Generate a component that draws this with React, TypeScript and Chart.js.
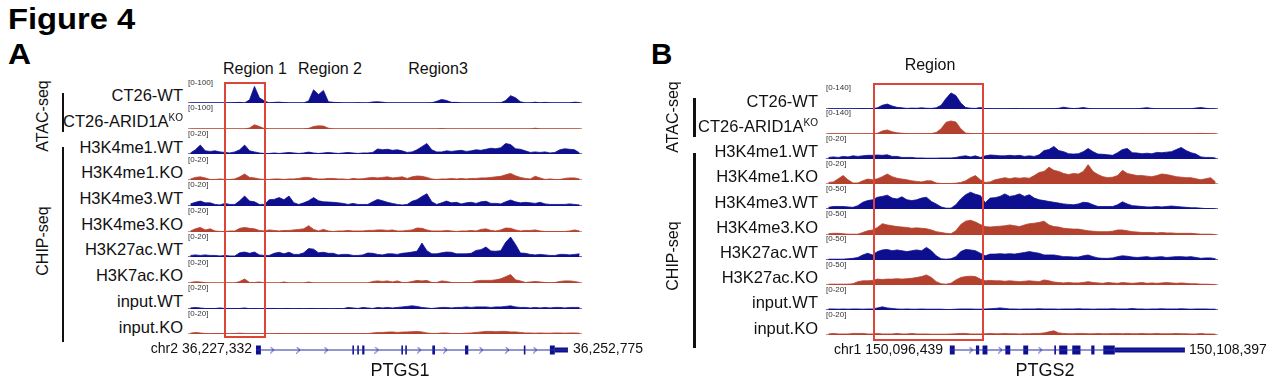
import React, { useEffect, useRef } from "react";
import { Chart, registerables } from "chart.js";
Chart.register(...registerables);

// ---------------- DATA ----------------
const trackNamesA = ["CT26-WT", "CT26-ARID1A^KO", "H3K4me1.WT", "H3K4me1.KO", "H3K4me3.WT", "H3K4me3.KO", "H3K27ac.WT", "H3K7ac.KO", "input.WT", "input.KO"];
const trackNamesB = ["CT26-WT", "CT26-ARID1A^KO", "H3K4me1.WT", "H3K4me1.KO", "H3K4me3.WT", "H3K4me3.KO", "H3K27ac.WT", "H3K27ac.KO", "input.WT", "input.KO"];
const rangesA = [100, 100, 20, 20, 20, 20, 20, 20, 20, 20];
const rangesB = [140, 140, 20, 20, 50, 50, 50, 50, 20, 20];

const viewA = [36227332, 36252775];
const viewB = [150096439, 150108397];
const coordLabelsA = ["chr2 36,227,332", "36,252,775"];
const coordLabelsB = ["chr1 150,096,439", "150,108,397"];
const geneNameA = "PTGS1";
const geneNameB = "PTGS2";
const regionLabelsA = ["Region 1", "Region 2", "Region3"];
const regionLabelsB = ["Region"];
const highlightA = [36229721, 36232305];
const highlightB = [150097903, 150101228];

// Panel A signals (80 bins each)
const a1 = [0.5,0.5,0.5,0.5,0.5,0.5,0.5,0.5,1,2, 3,0.5,15,79,25,10,0.5,3,4,2, 0.5,0.5,0.5,0.5,10,63,40,60,6,3, 2,0.5,0.5,0.5,1,0.5,0.5,5,6,4, 0.5,0.5,0.5,0.5,0.5,0.5,0.5,0.5,0.5,1, 8,17,12,3,3,0.5,0.5,0.5,0.5,0.5, 0.5,0.5,0.5,1,12,35,25,6,0.5,0.5, 4,0.5,3,0.5,0.5,0.5,0.5,0.5,4,2];
const a2 = [0.3,0.3,0.3,0.3,0.3,0.3,0.3,0.3,0.3,0.3, 0.3,0.3,5,20,12,2,0.3,0.3,0.3,0.3, 0.3,0.3,0.3,0.5,3,12,15,14,4,0.5, 0.3,0.3,0.3,0.3,0.3,0.3,0.3,0.3,0.3,0.3, 0.3,0.3,0.3,0.3,0.3,0.3,0.3,0.3,0.3,0.3, 0.3,2,0.3,0.3,0.3,0.3,0.3,0.3,0.3,0.3, 0.3,0.3,0.3,0.3,0.3,0.3,0.3,0.3,0.3,0.3, 4,0.5,0.3,0.3,0.3,0.3,0.3,0.3,0.3,0.3];
const a3 = [1,4,8.5,3,2.5,3,2,1.5,1,2, 4,8.5,3,2,1,0.5,0.5,1,0.5,1, 1.5,1,0.5,1,1.8,1,0.5,1,1.5,1, 0.5,1,1.5,1,0.5,1,1,1.5,4.8,4, 4.5,3.5,4,3,1.5,2,4,7,10,4, 2,2,3,2.5,3,3.5,2.5,3,4,3.5, 4.5,5.5,5,6,10,9,5,4.5,3,1.5, 2,1.5,2,1,1.5,4,5,4.5,4,1];
const a4 = [1,2.5,3,2,0.5,0.5,1,0.5,0.5,1, 3,5.7,2.5,2,1,0.5,0.5,1,1,0.5, 1,1,1.5,2.5,2.5,1.5,1,1,1.5,1.5, 1,1,0.5,1.5,1,1.2,2,2.5,2,2.5, 3,2,2.5,3,1.5,3,3.8,3.5,2.5,1, 0.5,1,1,1.5,1,1.5,1,1.5,1.5,2, 2,2.5,3,3.5,5,6.3,4,2.5,1.5,1, 3.5,2,0.5,1,0.5,0.5,1.5,2,2,1];
const a5 = [2,3.5,4.7,3,3,1.5,1,2.5,1.5,1.5, 5,9.5,4.7,4,1.5,1.5,6,6.3,8,6, 9.5,3,1.5,3,5,8,5,4,3.8,3.5, 3,2.5,1.5,2.5,1.5,1.5,1.5,4,6.3,5, 3.5,2.5,1.5,1,1.5,4.5,6,9,11.7,4, 1.5,3,4.7,3,3.5,2,3,3.5,2.5,4, 4.5,2.5,2.5,2,4,5.7,4,3,3.5,3, 2.5,3.5,2,1.5,1.5,1.5,1.5,2,1.5,1];
const a6 = [1,3,4.4,2,3,1,0.5,0.5,1,1, 3.5,4.4,3.5,3,1.5,1,2,1.5,1,1.5, 1.5,2,2.5,3,6,2.5,1,2.5,1,0.5, 1,1,1.5,1,1,1,1.5,1.5,2,2, 1.5,2,1,1,1.5,2,3.8,3.5,2,1, 1,1,1.5,1,0.5,1,1,1.5,1,2.5, 3,1.5,1,2,3.8,3.5,2,1,1.5,1.5, 2,1,0.5,0.5,0.5,0.5,0.5,1,2,1];
const a7 = [1.5,2,1.5,2,1.5,1.5,1,1.5,1,1, 4,4.7,3.5,4.7,2,1.5,1.5,3.5,4.5,3, 4.5,2.5,2.5,4,8,7.5,4,4.5,3.5,3.5, 2,2.5,2.5,1.5,1.5,2,3.8,3.5,2.5,2, 3,3,2.5,3.5,4,4.7,5.5,13.3,6,3, 3,4,4.7,4.5,3,3,3,3.5,6.3,7, 9.5,5.7,5.5,6,14,19,12,3.8,3.5,2.5, 2,2.5,2,1.5,1.5,2.5,2.5,2,2.5,3];
const a8 = [0.5,1.3,1,0.3,0,0,0,0,0,0, 1.5,3.8,0.5,0.5,1,0,0,0,0,1, 0,0,0,0,1,0,0,0,0,0, 0,0,0,0,0,0,0,1.5,2,1.5, 2,1,2,0.5,0.5,1.5,2.5,2,2.5,0.5, 0.5,2,1.5,0.5,0.3,0.3,0.3,0.3,2,2.5, 2.5,2.5,3,4,6,8,3,2,0.5,1, 1.5,1,0.5,0.3,0.5,1.5,2,2,1.5,0.5];
const a9 = [1,1.5,1,0.5,0.5,0.5,1,0.5,0.5,0.5, 0.5,1,0.3,0.5,0.3,0.3,0.5,0.5,0.3,0.5, 0.5,0.3,0.5,0.3,0.5,0.5,0.3,0.5,0.3,0.3, 0.5,0.3,1.5,1,0.5,1.5,1,0.5,1.5,1, 1.5,1,1.5,2,2.5,3,2.5,1.5,1,0.5, 1,1.5,1.5,1,1.5,1.5,2,1.5,2,2, 2,1.5,2,2,2.5,3,2,1.5,1.5,1, 1.5,1,1.5,1,1.5,1.5,1,1.5,1.5,1.5];
const a10 = [0.8,1.5,1,0.5,0.3,0.5,0.5,0.3,0.3,0.5, 0.8,0.5,0.3,0.3,0.5,0.3,0.3,0.3,0.5,0.3, 0.3,0.3,0.3,0.3,0.5,0.3,0.3,0.3,0.3,0.3, 0.3,0.3,0.3,0.3,0.3,0.5,0.3,1,1.5,1.5, 1.8,2,1.5,1.8,2,2.2,2.5,2,1,0.5, 0.5,1,1,0.5,0.5,0.5,0.8,1,1.5,2, 2.5,2.5,2.2,2.5,2.5,2,2,1.5,1,1, 0.8,1,0.8,0.8,1,1,0.8,1,1,0.8];

// Panel B signals (80 bins each)
const b1 = [1,1,1,1,1,1,2,3,2,3, 8,25,33,20,11,8,4,6,5,8, 5,4,8,25,70,107,90,40,10,5, 4,10,2,2,2,2,2,2,3,2, 2,2,2,2,2,2,2,5,12,6, 3,5,10,4,2,2,2,2,2,2, 2,2,2,2,5,9,4,2,2,2, 2,2,2,2,2,6,10,5,2,1];
const b2 = [1,1,1,1,1,1,1,1,1,2, 5,20,27,15,8,5,3,2,2,2, 2,3,10,35,78,87,80,35,6,3, 2,3,2,2,2,2,2,2,2,2, 2,2,2,2,2,2,2,3,2,2, 2,2,3,2,2,2,2,2,2,2, 2,2,2,2,3,2,2,2,2,2, 2,2,2,2,2,3,4,3,2,1];
const b3 = [1.5,2,1.5,2.5,2,3,2.5,3,3.5,3.5, 3.8,3.5,4,2.5,2.5,1.5,1.5,1.5,1,1, 0.8,0.8,0.8,1,1,1,1.5,2.5,3,2, 3,1.5,3,3.8,3.5,3,3,3.5,3,3.5, 2.5,3,2.5,4,8,9,12,8,7,5, 4.7,5,7,10,7,4.7,4.5,4,3.5,6, 9,10,6,5.7,5,5.5,5,6.3,6,6.5, 7,9,11,8,6,4.7,2,1.5,1.5,1];
const b4 = [1.5,2,5,8,4,1,1,3,4.7,4, 5,7,9.5,7,5.5,4.7,4,3,2.5,2, 3,3,1,0.5,0.5,0.5,0.8,1.5,3,6, 8,4,1.5,2,4,5,6,5,6,5.5, 6,5.5,8,11,12,16,13,12,10,9, 10,9.5,12,18.4,12,9,7,6,6.5,8, 13,10,9,8,8,7.5,7,8,9.5,9, 8,7,6.5,6,6,5,4,5,6,2];
const b5 = [4,6,6,6,5,4,8,16,20,22, 28,30,33,26,24,29,22,20,22,26, 28,18,12,5,2,2,10,24,34,40, 35,32,15,26,27,30,36,30,32,36, 30,34,26,22,20,18,16,14,12,11, 10,12,16,15,10,6,6,6,6,10, 17,12,8,7,6,5,5,6,5,6, 7,6,5,4,3,3,2,1,1,0.5];
const b6 = [3,4,4,3,2,2,2,6,10,12, 18,27,24,22,20,19,18,16,17,16, 15,12,8,6,4,3,10,25,33,35, 31,25,20,19,20,21,22,24,22,20, 24,27,28,30,33,24,20,19,16,15, 14,14,12,10,9,8,8,8,9,12, 12,10,8,7,6,6,6,5,6,5, 5,4,4,4,4,3,2,2,2,1];
const b7 = [2,2,2,2,3,4,6,12,16,12, 20,24,25,22,24,22,20,22,24,22, 30,22,10,3,2,3,8,20,25,24, 22,16,10,14,14,15,14,15,14,16, 18,20,18,16,12,12,12,10,8,8, 7,7,10,12,8,5,4,4,5,8, 10,9,7,6,7,8,6,7,8,6, 7,8,8,7,8,6,4,5,5,3];
const b8 = [2,2,2,2,2,3,8,10,10,11, 14,13,14,14,15,14,15,16,18,20, 24,18,8,3,2,4,12,18,20,21, 20,14,10,11,10,10,9,10,9,8, 9,10,9,8,12,10,7,6,5,6, 5,5,6,8,6,5,4,6,5,4, 6,5,4,5,6,4,5,4,5,6, 5,4,5,4,3,3,2,2,1.5,1];
const b9 = [1,1,0.8,1,0.8,1,1,0.8,1,1, 2,3,2,1.5,1,0.8,1,0.8,0.8,1, 0.8,0.8,0.8,0.8,0.5,0.5,0.8,1,1,1, 0.8,0.8,1,1.2,1.5,2,1.5,1,1,0.8, 1,1,1,1.2,1,1,1,0.8,1,1, 1,1.2,1,1,0.8,1,1,1,1.2,1, 1,1,1.5,1,1,0.8,1,1,1.2,1, 1,1,1.2,1,0.8,1,1,1,0.8,0.8];
const b10 = [1,1.5,1,1,1,1.5,1.5,1.5,1,1, 1.5,1,1,1,1.5,1,1,1.5,1,1, 1,0.8,0.8,0.8,0.8,1,1.2,1.5,1.5,1, 1,1,1.2,1.5,1.2,1.2,1.5,1.2,1.2,1, 1.2,1.2,1.5,1.5,2,3,4,2,1.5,1.2, 1.2,1.5,1.5,1.2,1.2,1.5,1.2,1.2,1.5,1.5, 1.2,1.5,1.2,1.2,1.5,1.2,1.2,1.5,1.2,1.2, 1.2,1.5,1.2,1.2,1,1,1.5,1,1,0.8];

// Gene models (genomic coordinates)
const cdsA = [[36231549,36231872],[36237904,36238007],[36238227,36238330],[36238550,36238698],[36241133,36241236],[36241391,36241494],[36243173,36243348],[36245330,36245544],[36249205,36249308],[36250923,36251246]];
const utrA = [[36251246,36252111]];
const arrowsA = [36232628,36234352,36236179,36239518,36242315,36244039,36246403,36248127,36249954];
const cdsB = [[150100170,150100322],[150100984,150101085],[150101189,150101341],[150101899,150102052],[150102458,150102610],[150103425,150103476],[150103577,150103830],[150103983,150104239],[150104575,150104675],[150104950,150105307]];
const utrB = [[150105307,150107491]];
const arrowsB = [150100832,150101747,150102989];

// ---------------- STYLE / LAYOUT ----------------
const FONT = '"Liberation Sans", Arial, Helvetica, sans-serif';
const BLUE = "#0d0f8e";
const RED = "#b4412d";
const BLUE_BASE = "#6b6bb8";
const RED_BASE = "#cc8f84";
const INTRON = "#2b2ea6";
const HL = "#dc4538";

const layoutA = { trackLeft: 188, trackWidth: 394, base0: 102, step: 25.7, labelRight: 183, hlTop: 83, hlBottom: 337,
  regionX: [255, 330, 438], regionY: 75, coordLeftRight: 252, coordRightLeft: 573, coordY: 353, geneX: 400, geneY: 377,
  letter: "A", letterX: 8, letterScale: 1.1, vx: 43, atacY: 116, chipY: 241, barX: 61.5, atacBar: [93, 132], chipBar: [147, 342] };
const layoutB = { trackLeft: 826, trackWidth: 392, base0: 107.5, step: 25.2, labelRight: 818, hlTop: 84, hlBottom: 340,
  regionX: [930], regionY: 71, coordLeftRight: 943, coordRightLeft: 1189, coordY: 354, geneX: 1045, geneY: 377,
  letter: "B", letterX: 651, letterScale: 1.02, vx: 673, atacY: 117, chipY: 256, barX: 693, atacBar: [98, 137], chipBar: [153, 348] };

const panelA = { names: trackNamesA, ranges: rangesA, signals: [a1, a2, a3, a4, a5, a6, a7, a8, a9, a10], view: viewA,
  coords: coordLabelsA, gene: geneNameA, regions: regionLabelsA, highlight: highlightA, cds: cdsA, utr: utrA, arrows: arrowsA };
const panelB = { names: trackNamesB, ranges: rangesB, signals: [b1, b2, b3, b4, b5, b6, b7, b8, b9, b10], view: viewB,
  coords: coordLabelsB, gene: geneNameB, regions: regionLabelsB, highlight: highlightB, cds: cdsB, utr: utrB, arrows: arrowsB };

const baselinePlugin = {
  id: "baseline",
  beforeDatasetsDraw(chart: any, _a: any, opts: any) {
    const { ctx, chartArea } = chart;
    const y = Math.round(chart.scales.y.getPixelForValue(0)) - 0.5;
    ctx.save();
    ctx.strokeStyle = (opts && opts.color) || "#888";
    ctx.lineWidth = 1;
    ctx.beginPath();
    ctx.moveTo(chartArea.left, y);
    ctx.lineTo(chartArea.right, y);
    ctx.stroke();
    ctx.restore();
  },
};

function T(props: any) {
  const { x, y, size = 16, align = "left", bold = false, color = "#111", scaleX = 1, children } = props;
  const w = 600;
  let left = x;
  if (align === "right") left = x - w;
  else if (align === "center") left = x - w / 2;
  return (
    <div style={{ position: "absolute", left, top: y - 0.9215 * size, width: w, textAlign: align, fontSize: size,
      lineHeight: `${size * 1.15}px`, fontWeight: bold ? 700 : 400, whiteSpace: "nowrap", color, fontFamily: FONT,
      transform: scaleX !== 1 ? `scaleX(${scaleX})` : undefined, transformOrigin: "left top" }}>
      {children}
    </div>
  );
}

function VText({ cx, cy, text }: any) {
  return (
    <div style={{ position: "absolute", left: cx - 60, top: cy - 10, width: 120, height: 20, lineHeight: "20px",
      textAlign: "center", fontSize: 16, fontFamily: FONT, color: "#111", transform: "rotate(-90deg)", whiteSpace: "nowrap" }}>
      {text}
    </div>
  );
}

function Label({ name }: { name: string }) {
  const [main, sup] = name.split("^");
  return (
    <>
      {main}
      {sup ? <span style={{ fontSize: 10, position: "relative", top: -6 }}>{sup}</span> : null}
    </>
  );
}

function Panel({ cfg, lay }: any) {
  const trackRefs = useRef<(HTMLCanvasElement | null)[]>([]);
  const geneRef = useRef<HTMLCanvasElement | null>(null);
  const hlRef = useRef<HTMLDivElement | null>(null);

  useEffect(() => {
    const charts: Chart[] = [];
    const [vs, ve] = cfg.view;
    cfg.signals.forEach((sig: number[], i: number) => {
      const cv = trackRefs.current[i];
      if (!cv) return;
      const color = i % 2 === 0 ? BLUE : RED;
      const binW = (ve - vs) / sig.length;
      const pts = sig.map((v, k) => ({ x: vs + (k + 0.5) * binW, y: v }));
      charts.push(new Chart(cv, {
        type: "line",
        data: { datasets: [{ data: pts, fill: "origin", backgroundColor: color, borderColor: color, borderWidth: 0.8, pointRadius: 0, tension: 0 }] },
        options: {
          animation: false, responsive: false, events: [],
          layout: { padding: { top: 1, bottom: 2, left: 0, right: 0 } },
          plugins: { legend: { display: false }, tooltip: { enabled: false }, baseline: { color: i % 2 === 0 ? BLUE_BASE : RED_BASE } } as any,
          scales: { x: { type: "linear", display: false, min: vs, max: ve }, y: { display: false, min: 0, max: cfg.ranges[i] } },
        },
        plugins: [baselinePlugin as any],
      }));
    });

    // gene model
    const arrowImg = document.createElement("canvas");
    arrowImg.width = 5; arrowImg.height = 7;
    const c2 = arrowImg.getContext("2d")!;
    c2.strokeStyle = INTRON; c2.lineWidth = 1;
    c2.beginPath(); c2.moveTo(0.5, 0.5); c2.lineTo(4, 3.5); c2.lineTo(0.5, 6.5); c2.stroke();

    const seg = (arr: number[][]) => {
      const out: any[] = [];
      arr.forEach(([s, e]) => { out.push({ x: s, y: 0 }, { x: e, y: 0 }, { x: e, y: null }); });
      return out;
    };
    const geneStart = cfg.cds[0][0];
    const geneEnd = cfg.utr[cfg.utr.length - 1][1];
    if (geneRef.current) {
      charts.push(new Chart(geneRef.current, {
        type: "line",
        data: { datasets: [
          { data: [{ x: geneStart, y: 0 }, { x: geneEnd, y: 0 }], borderColor: INTRON, borderWidth: 1.2, pointRadius: 0 },
          { data: cfg.arrows.map((a: number) => ({ x: a, y: 0 })), showLine: false, pointStyle: arrowImg as any, pointRadius: 3, borderWidth: 0 },
          { data: seg(cfg.utr), borderColor: BLUE, borderWidth: 5, pointRadius: 0, spanGaps: false },
          { data: seg(cfg.cds), borderColor: BLUE, borderWidth: 9, pointRadius: 0, spanGaps: false },
        ] },
        options: {
          animation: false, responsive: false, events: [],
          layout: { padding: 0 },
          plugins: { legend: { display: false }, tooltip: { enabled: false } },
          scales: { x: { type: "linear", display: false, min: vs, max: ve }, y: { display: false, min: -1, max: 1 } },
        },
      }));
    }

    // highlight rectangle positioned through the track x scale
    if (charts[0] && hlRef.current) {
      const sx = charts[0].scales.x;
      const l = lay.trackLeft + sx.getPixelForValue(cfg.highlight[0]);
      const r = lay.trackLeft + sx.getPixelForValue(cfg.highlight[1]);
      hlRef.current.style.left = `${l - 1}px`;
      hlRef.current.style.width = `${r - l + 2}px`;
      hlRef.current.style.display = "block";
    }
    return () => charts.forEach((ch) => ch.destroy());
  }, []);

  const baselines = cfg.names.map((_: string, i: number) => lay.base0 + i * lay.step);

  return (
    <>
      <T x={lay.letterX} y={65} size={29} bold scaleX={lay.letterScale} color="#000">{lay.letter}</T>
      <VText cx={lay.vx} cy={lay.atacY} text="ATAC-seq" />
      <VText cx={lay.vx} cy={lay.chipY} text="CHIP-seq" />
      <div style={{ position: "absolute", left: lay.barX, top: lay.atacBar[0], width: 2.5, height: lay.atacBar[1] - lay.atacBar[0], background: "#111" }} />
      <div style={{ position: "absolute", left: lay.barX, top: lay.chipBar[0], width: 2.5, height: lay.chipBar[1] - lay.chipBar[0], background: "#111" }} />
      {cfg.regions.map((r: string, i: number) => (
        <T key={"r" + i} x={lay.regionX[i]} y={lay.regionY} size={16} align="center">{r}</T>
      ))}
      {cfg.names.map((n: string, i: number) => {
        const b = Math.round(baselines[i]);
        return (
          <React.Fragment key={"t" + i}>
            <T x={lay.labelRight} y={baselines[i] - 0.5} size={16.5} align="right"><Label name={n} /></T>
            <T x={lay.trackLeft} y={baselines[i] - 17} size={8} color="#333">{`[0-${cfg.ranges[i]}]`}</T>
            <canvas ref={(el) => { trackRefs.current[i] = el; }} width={lay.trackWidth} height={24}
              style={{ position: "absolute", left: lay.trackLeft, top: b - 21, width: lay.trackWidth, height: 24 }} />
          </React.Fragment>
        );
      })}
      <canvas ref={geneRef} width={lay.trackWidth} height={20}
        style={{ position: "absolute", left: lay.trackLeft, top: 340, width: lay.trackWidth, height: 20 }} />
      <T x={lay.coordLeftRight} y={lay.coordY} size={14} align="right">{cfg.coords[0]}</T>
      <T x={lay.coordRightLeft} y={lay.coordY} size={14}>{cfg.coords[1]}</T>
      <T x={lay.geneX} y={lay.geneY} size={18} align="center">{cfg.gene}</T>
      <div ref={hlRef} style={{ position: "absolute", display: "none", top: lay.hlTop - 1, height: lay.hlBottom - lay.hlTop + 2,
        border: `2px solid ${HL}`, boxSizing: "border-box" }} />
    </>
  );
}

export default function App() {
  return (
    <div style={{ position: "absolute", left: 0, top: 0, width: 1269, height: 384, background: "#fff", overflow: "hidden", fontFamily: FONT }}>
      <T x={8} y={30} size={30} bold scaleX={1.09} color="#000">Figure 4</T>
      <Panel cfg={panelA} lay={layoutA} />
      <Panel cfg={panelB} lay={layoutB} />
    </div>
  );
}
